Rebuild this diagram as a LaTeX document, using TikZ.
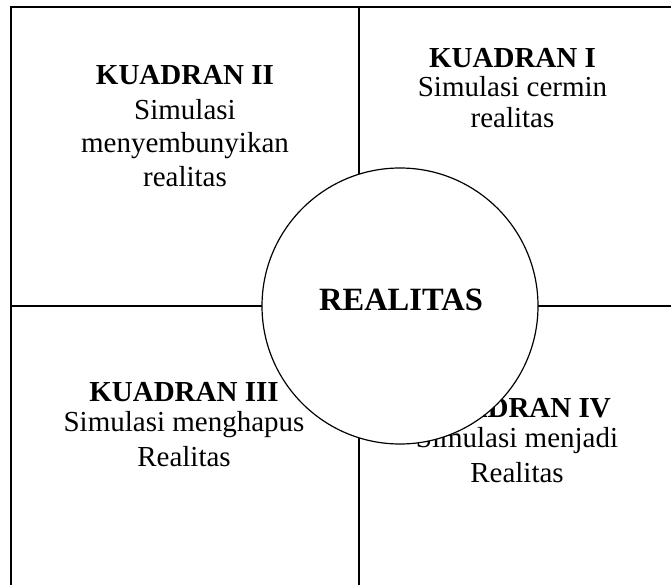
\documentclass[tikz,border=0pt]{standalone}
\usepackage{fontspec}
\setmainfont{Liberation Serif}
\begin{document}
\begin{tikzpicture}[x=1pt,y=-1pt,
  frame/.style={line width=2pt,line cap=rect},
  qhead/.style={anchor=base,inner sep=0pt,font=\fontsize{29}{34}\selectfont\bfseries},
  qtext/.style={anchor=base,inner sep=0pt,font=\fontsize{29}{34}\selectfont},
  ring/.style={circle,draw,fill=white,line width=1.2pt,minimum size=276pt,inner sep=0pt},
  ctext/.style={anchor=base,inner sep=0pt,font=\fontsize{32.5}{36}\selectfont\bfseries}]
\useasboundingbox (0,0) rectangle (671,585);
% frame lines
\coordinate (tl) at (11,6.7);
\coordinate (tr) at (671,6.7);
\coordinate (bl) at (11,585);
\coordinate (mt) at (359,6.7);
\coordinate (mb) at (359,585);
\coordinate (ml) at (11,305.7);
\coordinate (mr) at (671,305.7);
\draw[frame] (tr) -- (tl) -- (bl);
\draw[frame] (mt) -- (mb);
\draw[frame] (ml) -- (mr);
% quadrant I
\node[qhead] (q1h) at (512.5,67.3) {KUADRAN I};
\node[qtext] (q1a) at (512.5,96.7) {Simulasi cermin};
\node[qtext] (q1b) at (512.5,128) {realitas};
% quadrant II
\node[qhead] (q2h) at (185,85) {KUADRAN II};
\node[qtext] (q2a) at (185,120) {Simulasi};
\node[qtext] (q2b) at (185,153) {menyembunyikan};
\node[qtext] (q2c) at (185,187) {realitas};
% quadrant III
\node[qhead] (q3h) at (184,401.7) {KUADRAN III};
\node[qtext] (q3a) at (184,431.7) {Simulasi menghapus};
\node[qtext] (q3b) at (184,466.7) {Realitas};
% quadrant IV
\node[qhead] (q4h) at (517,417) {KUADRAN IV};
\node[qtext] (q4a) at (517,447) {Simulasi menjadi};
\node[qtext] (q4b) at (517,482) {Realitas};
% centre circle
\node[ring] (real) at (400,306) {};
\node[ctext] (realt) at (401,310) {REALITAS};
\end{tikzpicture}
\end{document}
